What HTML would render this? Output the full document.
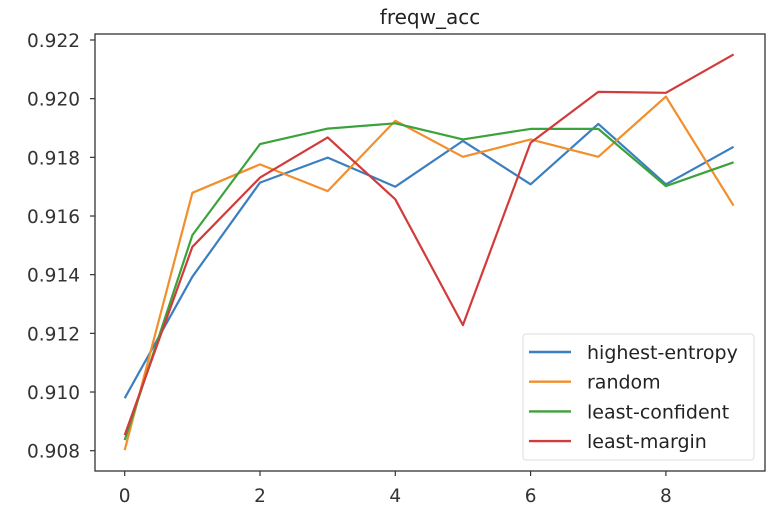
<!DOCTYPE html>
<html><head><meta charset="utf-8"><style>
html,body{margin:0;padding:0;background:#fff;}
svg{display:block;font-family:"DejaVu Sans","Liberation Sans",sans-serif;}
</style></head><body>
<svg id="chart" width="780" height="514" viewBox="0 0 780 514">
<text x="430" y="24" text-anchor="middle" font-size="20" fill="#222">freqw_acc</text>
<g id="grid"></g>
<g id="series"></g>
<rect x="95" y="34" width="670" height="437" fill="none" stroke="#333" stroke-width="1.3"/>
<g id="legend"></g>
</svg>
<script>
const xValues = [0,1,2,3,4,5,6,7,8,9];
const xTicks = [0,2,4,6,8];
const yTicks = [0.908,0.910,0.912,0.914,0.916,0.918,0.920,0.922];
const seriesNames = ["highest-entropy","random","least-confident","least-margin"];
const highestEntropy = [0.90979,0.91393,0.91714,0.91799,0.91700,0.91856,0.91708,0.91914,0.91708,0.91836];
const randomVals = [0.90802,0.91679,0.91776,0.91685,0.91925,0.91802,0.91861,0.91802,0.92007,0.91635];
const leastConfident = [0.90836,0.91535,0.91845,0.91898,0.91916,0.91861,0.91897,0.91897,0.91702,0.91783];
const leastMargin = [0.90853,0.91495,0.91731,0.91868,0.91657,0.91228,0.91850,0.92023,0.92020,0.92151];
const colors = ["#3a7fbf","#f28e2b","#3ca23c","#d23b3b"];
const allSeries = [highestEntropy, randomVals, leastConfident, leastMargin];

const NS="http://www.w3.org/2000/svg";
function xs(v){return 124.7 + v*67.65;}
function ys(v){return 40 + (0.922 - v)/0.002*58.67;}
const grid=document.getElementById('grid');
const ser=document.getElementById('series');
const leg=document.getElementById('legend');
function mk(tag,attrs,parent){const e=document.createElementNS(NS,tag);for(const k in attrs)e.setAttribute(k,attrs[k]);parent.appendChild(e);return e;}

yTicks.forEach(t=>{
  const y=ys(t);
  const l=mk('line',{x1:90,x2:95,y1:y,y2:y,stroke:'#333','stroke-width':1.2},grid);
  
  
  const tx=mk('text',{x:80,y:y+7,'text-anchor':'end','font-size':18.5,fill:'#333'},grid);
  tx.textContent=t.toFixed(3);
  
  
});
xTicks.forEach(t=>{
  const x=xs(t);
  const l=mk('line',{x1:x,x2:x,y1:471,y2:476,stroke:'#333','stroke-width':1.2},grid);
  
  
  const tx=mk('text',{x:x,y:502,'text-anchor':'middle','font-size':18.5,fill:'#333'},grid);
  tx.textContent=String(t);
  
  
});
allSeries.forEach((s,i)=>{
  const pts=s.map((v,j)=>xs(xValues[j]).toFixed(1)+','+ys(v).toFixed(1)).join(' ');
  const p=mk('polyline',{points:pts,fill:'none',stroke:colors[i],'stroke-width':2.2,'stroke-linejoin':'round'},ser);
  
  
});
const box=mk('rect',{x:523,y:334,width:231,height:126,rx:3,fill:'#fff','fill-opacity':0.85,stroke:'#ddd'},leg);


seriesNames.forEach((n,i)=>{
  const y=352+i*29.7;
  const l=mk('line',{x1:529,x2:571,y1:y,y2:y,stroke:colors[i],'stroke-width':2.4},leg);
  
  
  const t=mk('text',{x:587,y:y+7,'font-size':19,fill:'#222'},leg);
  t.textContent=n;
  
  
});
</script>
</body></html>
